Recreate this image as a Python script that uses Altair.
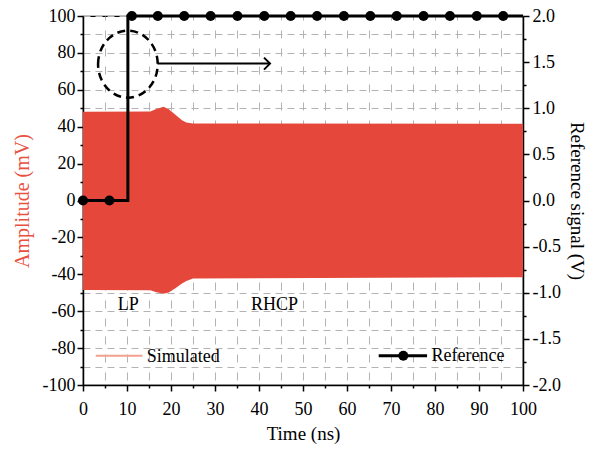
import altair as alt
import pandas as pd

# ---------------- data ----------------
# envelope of the simulated (dense) waveform, in mV
env_time_ns = [0, 15.3, 16.5, 18.3, 19.5, 21.0, 22.5, 23.5, 25.0, 100]
env_upper_mv = [48.1, 48.3, 49.5, 50.8, 49.5, 46.5, 43.5, 42.3, 41.8, 41.6]
env_lower_mv = [-48.5, -48.6, -49.6, -50.6, -49.8, -47.5, -45.0, -43.6, -42.3, -41.6]

# reference step signal (V)
ref_step_time = [0, 10.2, 10.2, 100]
ref_step_volt = [0.0, 0.0, 2.0, 2.0]
ref_dot_time = [0, 6.0, 11.1, 17.0, 23.0, 29.0, 35.1, 41.2, 47.2, 53.2,
                59.3, 65.3, 71.3, 77.4, 83.4, 89.5, 95.5]
ref_dot_volt = [0.0, 0.0] + [2.0] * 15

x_ticks = list(range(0, 101, 5))
yl_ticks = list(range(-100, 101, 10))
yr_ticks = [-2.0, -1.75, -1.5, -1.25, -1.0, -0.75, -0.5, -0.25, 0.0,
            0.25, 0.5, 0.75, 1.0, 1.25, 1.5, 1.75, 2.0]

# ---------------- style ----------------
FONT = "Liberation Serif"
RED = "#E5483A"
RED_TITLE = "#E8503F"
LIGHT_RED = "#F3A08E"
GRID = "#B3B3B3"
MINUS = "\u2212"

env = pd.DataFrame({"t": env_time_ns, "upper": env_upper_mv, "lower": env_lower_mv})
step = pd.DataFrame({"t": ref_step_time, "v": ref_step_volt,
                     "o": list(range(len(ref_step_time)))})
dots = pd.DataFrame({"t": ref_dot_time, "v": ref_dot_volt})

xs = alt.Scale(domain=[0, 100], nice=False, zero=False)
yls = alt.Scale(domain=[-100, 100], nice=False, zero=False)
yrs = alt.Scale(domain=[-2, 2], nice=False, zero=False)

x_axis = alt.Axis(
    title="Time (ns)", values=x_ticks,
    labelExpr="datum.value % 10 == 0 ? datum.label : ''",
    tickSize={"condition": {"test": "datum.value % 10 == 0", "value": 6}, "value": 3},
    grid=True, gridColor=GRID, gridDash=[8, 10], gridWidth=1, gridDashOffset=4,
    labelFlush=False, labelOverlap=False, labelPadding=9, titlePadding=6,
    titleFontSize=19, orient="bottom",
)
yl_axis = alt.Axis(
    title="Amplitude (mV)", values=yl_ticks, orient="left",
    labelExpr="datum.value % 20 == 0 ? replace(datum.label, '" + MINUS + "', '-') : ''",
    tickSize={"condition": {"test": "datum.value % 20 == 0", "value": 6}, "value": 3},
    grid=True, gridColor=GRID, gridDash=[7, 5], gridWidth=1,
    labelFlush=False, labelOverlap=False, labelPadding=2, titlePadding=10,
    titleColor=RED_TITLE,
)
yr_axis = alt.Axis(
    title="Reference signal (V)", values=yr_ticks, orient="right",
    labelExpr="datum.value % 0.5 == 0 ? replace(format(datum.value, '.1f'), '" + MINUS + "', '-') : ''",
    tickSize={"condition": {"test": "datum.value % 0.5 == 0", "value": 6}, "value": 3},
    grid=False, labelFlush=False, labelOverlap=False, labelPadding=3, titlePadding=6,
    titleFontSize=19,
)


def X(field="t"):
    return alt.X(f"{field}:Q", scale=xs, axis=x_axis)


def YL(field):
    return alt.Y(f"{field}:Q", scale=yls, axis=yl_axis)


def YR(field):
    return alt.Y(f"{field}:Q", scale=yrs, axis=yr_axis)


def ann(df):
    return alt.Chart(pd.DataFrame(df))


# ---------------- left (mV) layer ----------------
area = alt.Chart(env).mark_area(color=RED, opacity=1).encode(
    x=X(), y=YL("upper"), y2="lower:Q",
)

ellipse = ann({"t": [10.2], "a": [73.9]}).mark_point(
    shape="M -0.89 0 A 0.89 1 0 1 1 0.89 0 A 0.89 1 0 1 1 -0.89 0 Z",
    size=4489, filled=False, stroke="black", strokeWidth=2.5,
    strokeDash=[8, 5], opacity=1,
).encode(x=X(), y=YL("a"))

arrow = ann({"t": [16.9], "t2": [42.3], "a": [74.2]}).mark_rule(
    color="black", strokeWidth=2
).encode(x=X(), x2="t2:Q", y=YL("a"))

arrow_head = ann({"t": [42.5], "a": [74.2]}).mark_point(
    shape="M -1 -1 L 0 0 L -1 1", size=144, filled=False,
    stroke="black", strokeWidth=2, opacity=1,
).encode(x=X(), y=YL("a"))

labels = ann({"t": [10.3, 43.5], "a": [-56.5, -56.5], "s": ["LP", "RHCP"]}).mark_text(
    font=FONT, fontSize=18, color="black", align="center", baseline="middle"
).encode(x=X(), y=YL("a"), text="s:N")

sim_leg_line = ann({"t": [2.9], "t2": [13.5], "a": [-84.2]}).mark_rule(
    color=LIGHT_RED, strokeWidth=2
).encode(x=X(), x2="t2:Q", y=YL("a"))

sim_leg_text = ann({"t": [14.5], "a": [-84.6], "s": ["Simulated"]}).mark_text(
    font=FONT, fontSize=18, color="black", align="left", baseline="middle"
).encode(x=X(), y=YL("a"), text="s:N")

left = alt.layer(area, ellipse, arrow, arrow_head, labels, sim_leg_line, sim_leg_text)

# ---------------- right (V) layer ----------------
step_line = alt.Chart(step).mark_line(color="black", strokeWidth=3).encode(
    x=X(), y=YR("v"), order="o:Q",
)
step_dots = alt.Chart(dots).mark_circle(color="black", size=100, opacity=1).encode(
    x=X(), y=YR("v"),
)
ref_leg_line = ann({"t": [67.2], "t2": [78.2], "v": [-1.683]}).mark_rule(
    color="black", strokeWidth=3
).encode(x=X(), x2="t2:Q", y=YR("v"))
ref_leg_dot = ann({"t": [72.8], "v": [-1.683]}).mark_circle(
    color="black", size=100, opacity=1
).encode(x=X(), y=YR("v"))
ref_leg_text = ann({"t": [79.2], "v": [-1.69], "s": ["Reference"]}).mark_text(
    font=FONT, fontSize=18, color="black", align="left", baseline="middle"
).encode(x=X(), y=YR("v"), text="s:N")

right = alt.layer(step_line, step_dots, ref_leg_line, ref_leg_dot, ref_leg_text)

chart = (
    alt.layer(left, right)
    .resolve_scale(y="independent")
    .properties(
        width=440, height=369,
        autosize=alt.AutoSizeParams(type="none"),
        padding={"left": 83, "top": 16, "right": 67, "bottom": 64},
        background="white",
    )
    .configure_view(stroke="black", strokeWidth=1.2)
    .configure_axis(
        labelFont=FONT, titleFont=FONT, labelFontSize=18, titleFontSize=20,
        titleFontWeight="normal", labelColor="black", titleColor="black",
        domainColor="black", domainWidth=1.5, tickColor="black", tickWidth=1.5,
    )
)

chart.save("out.html", embed_options={"renderer": "svg", "actions": False})
